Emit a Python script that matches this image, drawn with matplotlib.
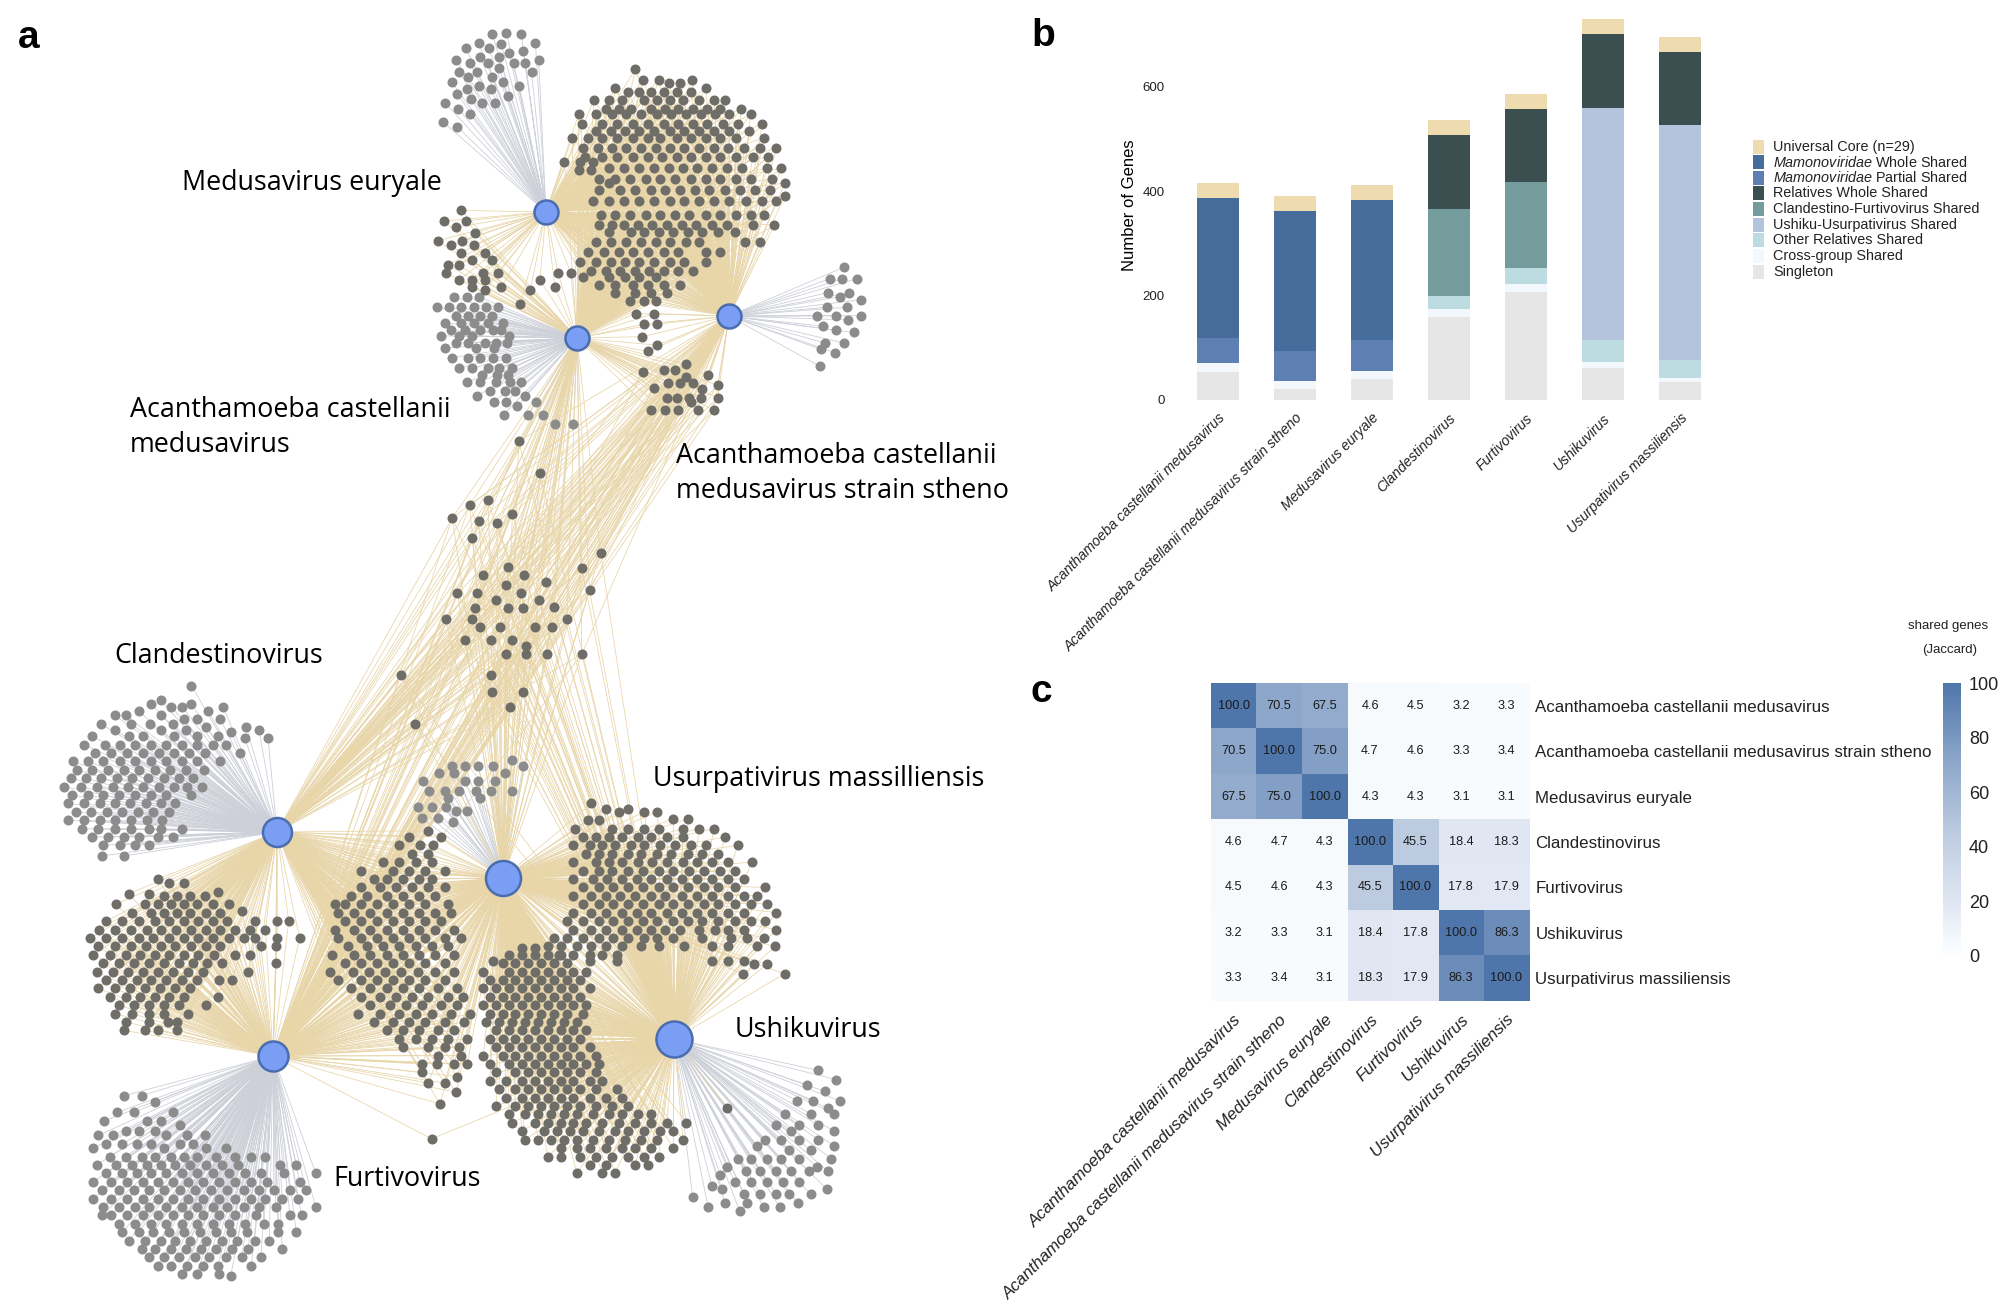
import matplotlib
matplotlib.use("Agg")
import matplotlib.pyplot as plt
from matplotlib.collections import LineCollection
from matplotlib.colors import LinearSegmentedColormap
from matplotlib.patches import Rectangle

plt.rcParams['font.family'] = ['Liberation Sans', 'DejaVu Sans']
plt.rcParams['mathtext.fontset'] = 'custom'
plt.rcParams['mathtext.it'] = 'Liberation Sans:italic'

W, H = 2000, 1309

# ---- panel b data
genomes = ["Acanthamoeba castellanii medusavirus", "Acanthamoeba castellanii medusavirus strain stheno",
           "Medusavirus euryale", "Clandestinovirus", "Furtivovirus", "Ushikuvirus", "Usurpativirus massiliensis"]
singleton = [53, 21, 41, 159, 206, 62, 35]
cross_group = [17, 16, 14, 15, 16, 10, 8]
other_rel = [0, 0, 0, 26, 30, 42, 34]
ushi_usur = [0, 0, 0, 0, 0, 446, 449]
clan_furt = [0, 0, 0, 166, 166, 0, 0]
rel_whole = [0, 0, 0, 141, 140, 141, 140]
mam_partial = [48, 56, 60, 0, 0, 0, 0]
mam_whole = [268, 269, 268, 0, 0, 0, 0]
core = [29, 29, 29, 29, 29, 29, 29]

stack = [(singleton, '#E6E6E6'), (cross_group, '#F2F8FC'), (other_rel, '#BCDCE2'), (ushi_usur, '#B3C4DC'),
         (clan_furt, '#749C9C'), (rel_whole, '#3B4F50'), (mam_partial, '#5D7FB2'), (mam_whole, '#466C9B'),
         (core, '#EEDCB0')]
legend_names = ["Universal Core (n=29)", r"$\mathit{Mamonoviridae}$ Whole Shared", r"$\mathit{Mamonoviridae}$ Partial Shared",
                "Relatives Whole Shared", "Clandestino-Furtivovirus Shared", "Ushiku-Usurpativirus Shared",
                "Other Relatives Shared", "Cross-group Shared", "Singleton"]
legend_cols = ['#EEDCB0', '#466C9B', '#5D7FB2', '#3B4F50', '#749C9C', '#B3C4DC', '#BCDCE2', '#F2F8FC', '#E6E6E6']

# ---- panel c data
jaccard = [[100.0, 70.5, 67.5, 4.6, 4.5, 3.2, 3.3],
           [70.5, 100.0, 75.0, 4.7, 4.6, 3.3, 3.4],
           [67.5, 75.0, 100.0, 4.3, 4.3, 3.1, 3.1],
           [4.6, 4.7, 4.3, 100.0, 45.5, 18.4, 18.3],
           [4.5, 4.6, 4.3, 45.5, 100.0, 17.8, 17.9],
           [3.2, 3.3, 3.1, 18.4, 17.8, 100.0, 86.3],
           [3.3, 3.4, 3.1, 18.3, 17.9, 86.3, 100.0]]

# ---- panel a data, hubs in image pixels
hubs = {"eur": (546, 212, 24), "aca": (577, 338, 24), "sth": (729, 316, 24), "cla": (277, 832, 29),
        "fur": (273, 1056, 30), "usu": (503, 878, 35), "ush": (674, 1039, 36)}

eur_single = [(80, [764, 809]), (78, [786]), (103, [743, 831]), (105, [778]), (115, [723, 759]), (120, [812]), (127, [790]),
              (135, [775, 745]), (142, [708, 836]), (150, [729, 757, 797, 815]), (162, [775]), (172, [713, 740, 825]),
              (182, [763, 727]), (195, [701, 780]), (205, [743, 806]), (212, [725, 762]), (223, [709]), (229, [788]),
              (235, [731]), (245, [691, 748, 769]), (258, [711]), (272, [730]), (290, [688]), (302, [710])]
big_med = [(165, [986]), (190, [998, 1022, 1074]), (198, [1038, 1056]), (210, [955, 1095]), (218, [975, 992, 1010, 1030, 1050, 1072]),
           (237, [922, 945, 965, 1000, 1020, 1040, 1060, 1085, 1108, 1125]),
           (258, [940, 960, 980, 1010, 1032, 1052, 1075, 1098, 1118, 1150]),
           (272, [898, 925, 950, 972, 995, 1020, 1042, 1065, 1088, 1110, 1132, 1165]),
           (295, [903, 935, 958, 982, 1005, 1030, 1052, 1075, 1098, 1122, 1145, 1183]),
           (312, [925, 948, 970, 992, 1015, 1040, 1062, 1085, 1108, 1132, 1162]),
           (328, [888, 912, 935, 958, 982, 1005, 1025, 1050, 1072, 1095, 1118, 1142, 1185]),
           (352, [905, 928, 950, 972, 995, 1018, 1040, 1062, 1085, 1108, 1130, 1155, 1180, 1205]),
           (372, [908, 935, 958, 982, 1005, 1028, 1050, 1072, 1095, 1118, 1142, 1168, 1192]),
           (384, [876, 900, 920]),
           (400, [945, 968, 992, 1015, 1038, 1060, 1082, 1105, 1128, 1152, 1190, 1212]),
           (405, [898, 918]),
           (425, [930, 955, 978, 1002, 1025, 1048, 1072, 1095, 1118, 1142, 1165, 1198]),
           (435, [945, 1218]),
           (452, [930, 962, 985, 1010, 1032, 1055, 1078, 1100, 1125, 1148, 1172, 1195]),
           (466, [1218]),
           (478, [920, 945, 968, 992, 1015, 1040, 1062, 1085, 1108, 1132, 1158, 1182, 1205]),
           (510, [932, 955, 978, 1002, 1025, 1048, 1070, 1095, 1118, 1142, 1165, 1185]),
           (535, [930, 950, 968, 990, 1012, 1035, 1058, 1080, 1105, 1128, 1168, 1202]),
           (552, [945, 980, 1000, 1022, 1045, 1068, 1090, 1115, 1140]),
           (575, [925, 948, 972, 995, 1018, 1040, 1065, 1085, 1156, 1180]),
           (598, [912, 938, 960, 982, 1005, 1030, 1052, 1095, 1118]),
           (622, [900, 925, 948, 970, 992, 1015, 1040, 1062, 1095]),
           (645, [918, 940, 962, 985, 1008, 1030, 1052, 1075]),
           (658, [905, 945, 970, 992, 1018]),
           (676, [930, 955, 982, 1005, 1030, 1055]),
           (695, [955, 985, 1035, 1010]),
           (715, [978, 1000, 1018])]
eur_aca = [(500, [716]), (525, [689, 723]), (540, [708]), (553, [737]), (572, [680, 717]), (583, [700, 735]), (600, [715, 752]),
           (618, [733, 764]), (630, [695, 712]), (648, [692, 750, 773, 866, 886]), (665, [733, 838, 713, 752]), (682, [732, 861, 778]),
           (690, [753, 823]), (723, [807])]
aca_single = [(705, [704, 725, 743]), (730, [678, 697, 716, 736, 755, 773]), (750, [707, 726, 745, 763]), (767, [690, 716, 735, 757, 781]),
              (785, [700, 722, 745, 765, 778]), (798, [685, 712, 733, 790]), (815, [707, 726, 752, 770, 787]), (827, [690, 738, 766]),
              (850, [702, 727, 745, 765, 785]), (875, [712, 733, 758, 775, 795]), (890, [748, 772, 789]), (908, [725, 745, 770, 792, 808]),
              (930, [760, 783, 800]), (940, [741, 815]), (955, [766, 785, 832]), (965, [803]), (985, [782, 820, 842]), (1008, [862, 890])]
aca_sth = [(745, [987, 1015]), (770, [1000, 1020]), (800, [997]), (820, [1020]), (835, [1005])]
sth_single = [(635, [1310]), (662, [1288, 1307, 1330]), (695, [1285, 1318]), (705, [1303]), (712, [1336]), (730, [1283, 1315]),
              (750, [1268, 1298, 1336]), (760, [1316]), (775, [1277]), (785, [1298]), (790, [1325]), (815, [1280, 1310]),
              (830, [1274]), (838, [1296]), (870, [1272])]
lower_med = [(865, [1064]), (880, [1030, 1048]), (885, [998]), (890, [1099]), (895, [1065]), (910, [1037, 1055, 1075]),
             (915, [1114]), (922, [1015]), (925, [1090]), (945, [1035, 1050, 1070, 1088, 1114]), (955, [1072]),
             (975, [1010, 1032, 1052, 1083, 1108])]
centre_up = [(1048, [805]), (1125, [838]), (1188, [757]), (1200, [729]), (1222, [795]), (1230, [702]), (1237, [743]), (1243, [771]),
             (1278, [733]), (1313, [932]), (1347, [788]), (1350, [903]), (1367, [749, 814]), (1382, [848]), (1390, [785]),
             (1403, [915]), (1410, [710, 741, 808]), (1425, [770, 836]), (1442, [860]), (1445, [737, 789, 812]), (1470, [692, 733, 880]),
             (1490, [745, 776, 830, 856]), (1520, [722, 762, 794]), (1535, [817])]

# lower half of the network
centre_low = [(10, [785, 817, 849, 903]), (60, [622, 762]), (100, [764, 811]), (135, [791]), (175, [644])]
cla_single = [(85, [297]), (120, [250]), (128, [234, 297]), (135, [346, 266, 283]), (145, [215, 323]), (155, [178, 195, 250]),
              (165, [342, 285, 305]), (175, [156, 203, 233, 268]), (182, [382, 320]), (190, [178, 250, 288, 402]), (195, [358]),
              (205, [143, 200, 222, 270, 305, 338]), (210, [416, 380]),
              (225, [130, 163, 187, 210, 235, 258, 282, 306, 330, 350]), (245, [147, 172, 197, 222, 247, 270, 294, 318, 372]),
              (265, [113, 136, 160, 186, 210, 234, 258, 282, 306, 342]), (285, [120, 143, 168, 192, 216, 240, 264, 288, 316]),
              (305, [110, 133, 157, 181, 205, 230, 254, 278, 300]), (325, [100, 125, 150, 175, 198, 222, 247, 270, 290, 313]),
              (345, [112, 136, 160, 185, 210, 234, 258, 296]), (365, [106, 130, 155, 178, 202, 226, 250, 272]),
              (385, [118, 142, 166, 190, 214, 238, 262]), (405, [105, 130, 155, 178, 203, 228, 252]),
              (425, [128, 152, 178, 203, 232, 250, 283]), (445, [143, 168, 192, 215, 245, 268]), (465, [160, 186, 210, 232]),
              (490, [158, 192])]
cla_fur = [(545, [245]), (555, [263, 285]), (575, [338]), (580, [200, 232]), (585, [255, 275, 295, 318]),
           (605, [180, 225, 245, 265, 285, 305, 330, 355]), (620, [375]), (625, [205, 235, 255, 275, 295, 320, 342]),
           (645, [165, 190, 215, 240, 262, 285, 308, 330, 352, 396, 430, 448]),
           (665, [153, 178, 203, 228, 250, 273, 296, 320, 342, 365, 388, 412]),
           (685, [140, 165, 190, 215, 238, 262, 285, 308, 330, 355, 378, 395, 430, 465]),
           (705, [152, 178, 203, 226, 250, 272, 297, 320, 342, 405, 428]),
           (725, [145, 170, 195, 218, 240, 263, 285, 308, 332, 365, 388]),
           (745, [160, 185, 208, 232, 255, 278, 300, 322, 345, 428]), (765, [150, 175, 198, 222, 245, 268, 292, 315, 385]),
           (785, [165, 190, 212, 235, 258, 282, 305, 340, 360]), (805, [152, 178, 202, 225, 248, 272, 295]),
           (825, [170, 195, 218, 240, 262, 285, 338]), (845, [185, 208, 232, 255, 278, 320]), (865, [178, 205, 232, 255, 292]),
           (885, [195, 232, 260, 275]), (905, [193, 225, 245, 275])]
cla_fur_usu = [(430, [665]), (445, [635, 685]), (465, [620, 652, 672]), (485, [640, 665]), (505, [595, 620, 645, 670]),
               (525, [560, 610, 635, 660, 690]), (545, [580, 600, 625, 650, 670]), (565, [560, 590, 615, 640, 665, 690]),
               (585, [545, 570, 600, 625, 650, 675]), (605, [520, 535, 560, 585, 610, 635, 660, 695]),
               (625, [525, 550, 575, 600, 625, 650, 675, 700]), (645, [535, 560, 585, 610, 635, 660, 685]),
               (665, [520, 550, 575, 600, 625, 650, 675, 705]), (685, [525, 560, 585, 610, 635, 660, 690, 715]),
               (705, [540, 570, 595, 620, 645, 670, 695]), (725, [515, 550, 575, 600, 625, 650, 675, 705]),
               (745, [535, 560, 585, 610, 635, 660, 690]), (765, [512, 548, 573, 598, 623, 648, 675, 705]),
               (785, [525, 560, 585, 610, 635, 660, 690]), (805, [545, 575, 600, 625, 650, 680, 710]),
               (825, [560, 590, 615, 640, 665, 695, 718]), (845, [575, 605, 630, 655, 685, 710]),
               (865, [555, 590, 620, 645, 670, 700, 730]), (885, [580, 610, 635, 660, 690, 720]), (905, [600, 625, 650, 680, 705]),
               (925, [620, 645, 670, 695, 725]), (945, [625, 665, 690, 712]), (965, [680, 715]), (985, [655, 678, 705, 725]),
               (1005, [655]), (1015, [710]), (1030, [665, 690]), (1052, [708]), (1080, [683])]
usu_single = [(262, [795]), (275, [702, 722, 742, 765, 812]), (292, [682, 705, 783]), (312, [656, 722, 742, 768]),
              (335, [666, 690, 712, 738, 762, 795]), (352, [695, 745]), (373, [648, 670, 692]), (382, [708, 725]), (400, [655, 680]),
              (410, [703])]
usu_ush_r = [(365, [918]), (378, [940, 975]), (385, [960, 1000, 1020]), (402, [1045, 1068]), (405, [912, 930]),
             (425, [893, 950, 975, 1000, 1022, 1060, 1085, 1108]), (445, [905, 925, 945, 965, 990, 1010, 1035, 1060, 1125]),
             (465, [890, 915, 935, 955, 980, 1000, 1025, 1048, 1072, 1095, 1145]),
             (485, [910, 930, 950, 975, 995, 1020, 1042, 1068, 1090, 1115]),
             (505, [890, 925, 945, 965, 990, 1012, 1035, 1060, 1082, 1105, 1130, 1167]),
             (525, [905, 930, 950, 975, 998, 1022, 1045, 1070, 1092, 1118, 1140]),
             (545, [890, 920, 942, 965, 988, 1010, 1035, 1058, 1082, 1105, 1130, 1155]),
             (565, [905, 930, 952, 975, 998, 1022, 1045, 1068, 1092, 1115, 1140, 1188]),
             (585, [890, 918, 940, 962, 985, 1010, 1032, 1058, 1082, 1105, 1130, 1155, 1175]),
             (605, [905, 930, 952, 975, 998, 1022, 1045, 1068, 1092, 1115, 1140, 1165, 1190]),
             (625, [890, 918, 940, 965, 988, 1010, 1035, 1058, 1082, 1105, 1130, 1155, 1205]),
             (645, [880, 905, 930, 952, 975, 998, 1020, 1045, 1068, 1090, 1115, 1140, 1165, 1188]),
             (665, [890, 918, 940, 965, 988, 1010, 1032, 1055, 1085, 1110, 1130, 1155, 1205]),
             (685, [860, 880, 905, 930, 952, 975, 1000, 1020, 1045, 1090, 1135, 1160, 1185]),
             (705, [850, 870, 895, 918, 940, 965, 995, 1022, 1062, 1105, 1130, 1175, 1203]),
             (725, [868, 890, 915, 935, 958]), (740, [915, 958, 1105, 1130, 1155]), (748, [1170, 1190]), (770, [1153, 1218])]
usu_ush_l = [(710, [810, 830]), (725, [790, 810, 830, 850, 870]), (740, [765]), (745, [780, 800, 820, 840, 860, 880]),
             (765, [750, 790, 810, 830, 850, 870, 890, 910]), (785, [760, 780, 800, 820, 840, 860, 880, 900]),
             (805, [750, 770, 790, 810, 830, 850, 870, 890, 915]), (825, [760, 780, 800, 820, 840, 860, 880, 900]),
             (845, [750, 770, 790, 810, 830, 850, 870, 890, 910]), (865, [760, 780, 800, 820, 840, 860, 880, 905]),
             (885, [755, 775, 795, 815, 835, 855, 875, 895]), (905, [770, 790, 810, 830, 850, 870, 890, 910]),
             (925, [760, 780, 800, 820, 840, 860, 880, 900]), (945, [770, 790, 810, 830, 850, 870, 890, 915]),
             (965, [750, 780, 800, 820, 840, 860, 880, 900, 925]), (985, [760, 790, 810, 830, 850, 870, 890, 910, 930]),
             (1005, [770, 800, 820, 840, 860, 880, 900, 925]), (1025, [760, 785, 810, 830, 850, 870, 890, 915, 935]),
             (1045, [775, 800, 820, 840, 860, 880, 900, 925, 958]), (1065, [785, 810, 830, 850, 870, 890, 915, 940, 965]),
             (1085, [770, 800, 820, 840, 860, 880, 900, 925, 950, 975]), (1105, [790, 815, 835, 855, 875, 895, 920, 945, 965, 990, 1010]),
             (1125, [795, 830, 850, 870, 890, 910, 935, 960, 985, 1010, 1035, 1065]),
             (1145, [810, 845, 865, 885, 905, 930, 955, 975, 1000, 1025, 1045]),
             (1165, [815, 835, 855, 875, 895, 920, 945, 970, 995, 1020, 1060]), (1185, [870, 895, 915, 940, 965, 985, 1010, 1045]),
             (1205, [850, 870, 900, 925, 950, 975, 1000, 1022]), (1225, [915, 940, 985, 1005]), (1245, [895, 935, 955])]
fur_single = [(1060, [193, 220]), (1075, [240]), (1100, [182, 208, 268]), (1120, [162, 228, 250]), (1130, [280]), (1145, [195, 215, 240]),
              (1155, [152, 175, 258, 290, 318]), (1175, [165, 190, 212, 235, 280, 300]), (1185, [145, 255, 320, 350]),
              (1205, [170, 195, 220, 240, 265, 285, 305, 335, 365, 390, 412]),
              (1225, [150, 180, 205, 228, 250, 272, 295, 320, 345, 370, 435, 460]),
              (1245, [165, 190, 212, 235, 258, 282, 305, 330, 355, 380, 405, 440, 490]),
              (1265, [145, 172, 197, 222, 245, 268, 292, 315, 340, 365, 390, 415, 465]),
              (1285, [158, 185, 208, 232, 255, 280, 302, 327, 352, 378, 402, 425, 450, 475]),
              (1305, [145, 172, 197, 222, 245, 268, 292, 315, 340, 365, 390, 412, 438, 462]),
              (1325, [160, 185, 210, 232, 258, 282, 305, 330, 352, 378, 402, 428, 490]),
              (1345, [158, 172, 197, 222, 245, 268, 292, 315, 340, 365, 398, 450, 468]),
              (1365, [185, 210, 235, 258, 282, 305, 330, 355, 380, 410, 432]),
              (1385, [190, 215, 238, 262, 285, 310, 335, 358, 383, 432, 460]),
              (1405, [200, 225, 250, 272, 295, 320, 345, 368, 395, 418]), (1425, [220, 240, 265, 288, 312, 335, 360, 385, 438]),
              (1445, [232, 255, 278, 302, 325, 350, 375, 405]), (1465, [245, 265, 290, 315, 338, 390]), (1485, [283, 305, 340]),
              (1490, [358])]
ush_single = [(1000, [1270]), (1022, [1298]), (1035, [1253]), (1050, [1280]), (1072, [1237, 1262, 1303]), (1090, [1285]),
              (1103, [1218, 1258, 1295]), (1130, [1205, 1240, 1270]), (1145, [1228, 1295]), (1165, [1188, 1212, 1240, 1270]),
              (1180, [1175, 1295]), (1190, [1225, 1258]), (1210, [1145, 1165, 1190, 1212, 1240, 1290]), (1230, [1128, 1268]),
              (1240, [1158, 1180, 1205, 1228, 1255, 1285]), (1250, [1118]), (1265, [1140, 1165, 1190, 1215, 1240]), (1275, [1105]),
              (1282, [1120, 1283]), (1295, [1155, 1180, 1205, 1225, 1258]), (1302, [1075]), (1315, [1125, 1160, 1238]),
              (1325, [1099, 1185, 1210]), (1335, [1148])]
lone_fur_ush = [(1163, [670])]
lone_ush = [(1090, [1128])]

# rows, which crop they were read in, hubs, tan or grey edge
clusters = [(eur_single, "top", ["eur"], False), (big_med, "top", ["eur", "aca", "sth"], True), (eur_aca, "top", ["eur", "aca"], True),
            (aca_single, "top", ["aca"], False), (aca_sth, "top", ["aca", "sth"], True), (sth_single, "top", ["sth"], False),
            (lower_med, "top", ["aca", "sth", "cla", "fur"], True),
            (centre_up, "top", ["aca", "sth", "cla", "fur", "usu", "ush"], True),
            (centre_low, "low", ["aca", "sth", "cla", "fur", "usu", "ush"], True),
            (cla_single, "low", ["cla"], False), (cla_fur, "low", ["cla", "fur"], True), (cla_fur_usu, "low", ["cla", "fur", "usu"], True),
            (usu_single, "low", ["usu"], False), (usu_ush_r, "low", ["usu", "ush"], True), (usu_ush_l, "low", ["usu", "ush"], True),
            (fur_single, "low", ["fur"], False), (ush_single, "low", ["ush"], False), (lone_fur_ush, "low", ["fur", "ush"], True),
            (lone_ush, "low", ["ush"], True)]

fig = plt.figure(figsize=(W / 100, H / 100), dpi=100)

# whole figure axes in image pixels, for the network and loose text
ax = fig.add_axes([0, 0, 1, 1])
ax.set_xlim(0, W)
ax.set_ylim(H, 0)
ax.axis("off")


def to_px(rows, crop):
    pts = []
    for y, xs in rows:
        for x in xs:
            if crop == "top":
                pts.append((x / 1.552, y / 2.376))
            else:
                pts.append((x / 1.552, 650 + y / 2.379))
    return pts


tan_seg, grey_seg = [], []
dark_pts, grey_pts = [], []
for rows, crop, names, shared in clusters:
    pts = to_px(rows, crop)
    for p in pts:
        for n in names:
            seg = [p, hubs[n][:2]]
            if shared:
                tan_seg.append(seg)
            else:
                grey_seg.append(seg)
    if shared:
        dark_pts += pts
    else:
        grey_pts += pts

ax.add_collection(LineCollection(grey_seg, colors='#CDD0D8', linewidths=0.6, zorder=1))
ax.add_collection(LineCollection(tan_seg, colors='#E8D5A8', linewidths=0.55, zorder=2))
ax.scatter([p[0] for p in grey_pts], [p[1] for p in grey_pts], s=52, color='#8C8C8C', linewidths=0, zorder=3)
ax.scatter([p[0] for p in dark_pts], [p[1] for p in dark_pts], s=52, color='#6F6D68', linewidths=0, zorder=4)
for hx, hy, d in hubs.values():
    ax.scatter([hx], [hy], s=(d * 0.72) ** 2, color='#7B9EF5', edgecolors='#4A6DB0', linewidths=1.8, zorder=5)

net_font = ['Open Sans', 'DejaVu Sans']
ax.text(182, 183, "Medusavirus euryale", fontsize=19.4, family=net_font, va='center')
ax.text(130, 410, "Acanthamoeba castellanii", fontsize=19.4, family=net_font, va='center')
ax.text(130, 445, "medusavirus", fontsize=19.4, family=net_font, va='center')
ax.text(676, 456, "Acanthamoeba castellanii", fontsize=19.4, family=net_font, va='center')
ax.text(676, 491, "medusavirus strain stheno", fontsize=19.4, family=net_font, va='center')
ax.text(114, 656, "Clandestinovirus", fontsize=19.4, family=net_font, va='center')
ax.text(653, 779, "Usurpativirus massilliensis", fontsize=19.4, family=net_font, va='center')
ax.text(735, 1030, "Ushikuvirus", fontsize=19.4, family=net_font, va='center')
ax.text(333, 1179, "Furtivovirus", fontsize=19.4, family=net_font, va='center')

ax.text(18, 38, "a", fontsize=28, fontweight='bold', va='center')
ax.text(1031, 36, "b", fontsize=28, fontweight='bold', va='center')
ax.text(1031, 692, "c", fontsize=28, fontweight='bold', va='center')

# legend of panel b
for i, (name, col) in enumerate(zip(legend_names, legend_cols)):
    ax.add_patch(Rectangle((1752.5, 139.5 + i * 15.66), 11.5, 14, facecolor=col, edgecolor='none'))
    ax.text(1773, 146.5 + i * 15.66, name, fontsize=10.4, va='center', color='#222222')
ax.text(1948, 626, "shared genes", fontsize=9.5, ha='center', va='center', color='#222222')
ax.text(1950, 650, "(Jaccard)", fontsize=9.5, ha='center', va='center', color='#222222')

# panel b
bx0, bx1, by0, by1 = 1170, 1730, 10, 400
axb = fig.add_axes([bx0 / W, 1 - by1 / H, (bx1 - bx0) / W, (by1 - by0) / H])
axb.patch.set_alpha(0)
xs = list(range(len(genomes)))
bottom = [0] * len(genomes)
for vals, col in stack:
    axb.bar(xs, vals, width=0.55, bottom=bottom, color=col, linewidth=0)
    bottom = [b + v for b, v in zip(bottom, vals)]
axb.set_xlim((bx0 - 1218) / 77, (bx1 - 1218) / 77)
axb.set_ylim(0, 747)
axb.set_yticks([0, 200, 400, 600])
axb.set_xticks(xs)
axb.set_xticklabels(genomes, rotation=45, ha='right', rotation_mode='anchor', fontsize=10.2, style='italic', color='#222222')
axb.tick_params(length=0)
axb.tick_params(axis='y', labelsize=9.5, pad=4, labelcolor='#222222')
axb.tick_params(axis='x', pad=8)
axb.set_ylabel("Number of Genes", fontsize=12, labelpad=4)
for s in axb.spines.values():
    s.set_visible(False)

# panel c
cmap = LinearSegmentedColormap.from_list("jac", [(0, '#FBFDFF'), (0.05, '#F7FAFD'), (0.18, '#E2E8F3'), (0.455, '#BCCBE0'),
                                                 (0.705, '#8EA8CB'), (1, '#4F76AA')])
hx0, hx1, hy0, hy1 = 1211, 1529, 683, 1001
axc = fig.add_axes([hx0 / W, 1 - hy1 / H, (hx1 - hx0) / W, (hy1 - hy0) / H])
im = axc.imshow(jaccard, cmap=cmap, vmin=0, vmax=100, aspect='auto')
for i, row in enumerate(jaccard):
    for j, v in enumerate(row):
        axc.text(j, i, f"{v:.1f}", ha='center', va='center', fontsize=9.2, color='#1a1a1a')
axc.set_xticks(range(len(genomes)))
axc.set_yticks(range(len(genomes)))
axc.set_xticklabels(genomes, rotation=45, ha='right', rotation_mode='anchor', fontsize=12.2, style='italic', color='#222222')
axc.yaxis.tick_right()
axc.set_yticklabels(genomes, fontsize=12.2, color='#222222')
axc.tick_params(length=0)
axc.tick_params(axis='y', pad=4.5)
axc.tick_params(axis='x', pad=8)
for s in axc.spines.values():
    s.set_visible(False)

cx0, cx1, cy0, cy1 = 1942.5, 1960.5, 683, 956
cax = fig.add_axes([cx0 / W, 1 - cy1 / H, (cx1 - cx0) / W, (cy1 - cy0) / H])
cb = fig.colorbar(im, cax=cax)
cb.set_ticks([0, 20, 40, 60, 80, 100])
cb.ax.tick_params(length=0, labelsize=13, pad=6, labelcolor='#222222')
cb.outline.set_visible(False)

plt.savefig("out.png", dpi=100)
